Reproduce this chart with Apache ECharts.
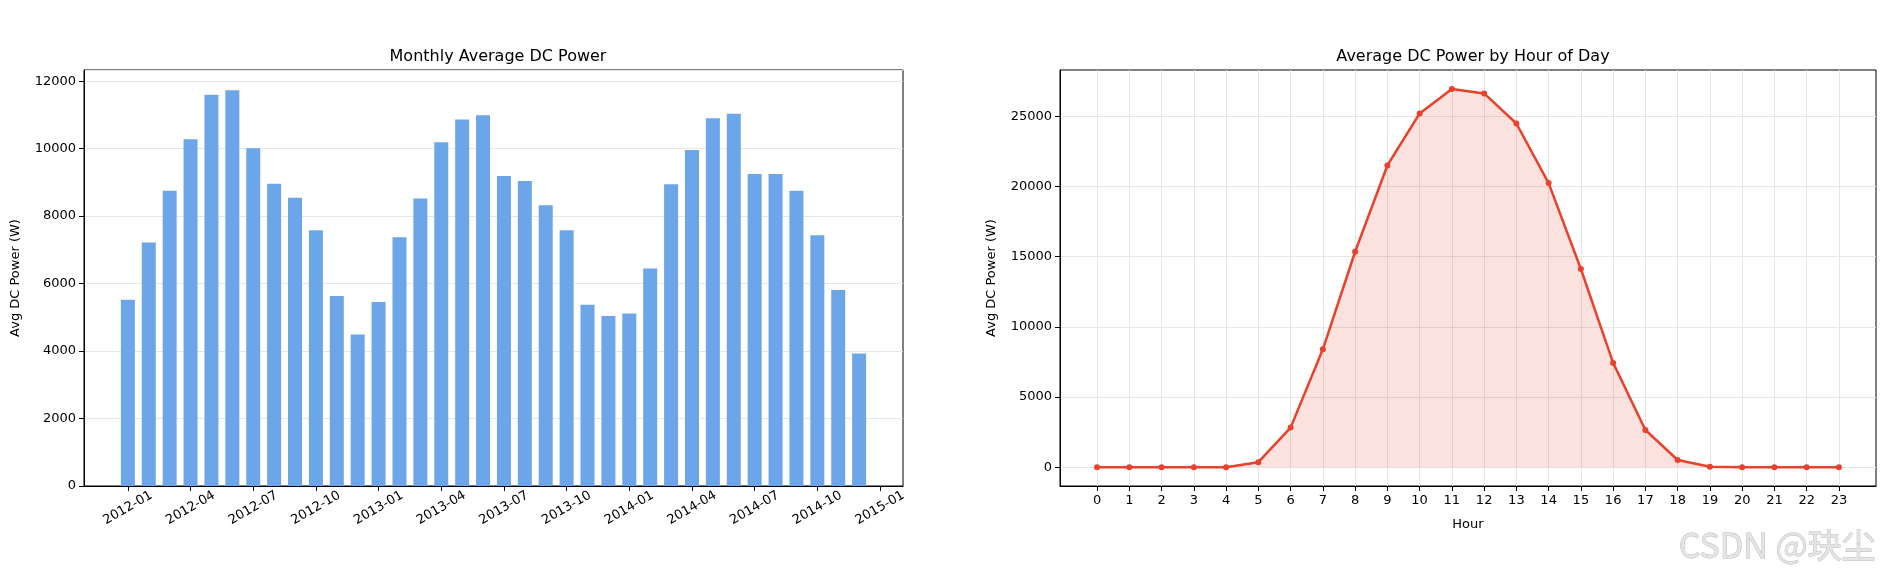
<!DOCTYPE html>
<html>
<head>
<meta charset="utf-8">
<script src="https://cdn.jsdelivr.net/npm/echarts@6/dist/echarts.min.js"></script>
<style>html,body{margin:0;padding:0;background:#fff}#main{width:1888px;height:574px}</style>
</head>
<body>
<div id="main"></div>
<script>
// 月份索引 0 = 2012-01
var monthLabels = ['2012-01','2012-04','2012-07','2012-10','2013-01','2013-04','2013-07','2013-10','2014-01','2014-04','2014-07','2014-10','2015-01'];
var monthTicks = [0,3,6,9,12,15,18,21,24,27,30,33,36];
var monthlyPower = [5520,7220,8750,10280,11600,11730,10010,8960,8540,7580,5630,4490,
    5450,7370,8520,10190,10860,10990,9190,9040,8320,7580,5370,5040,
    5110,6450,8940,9960,10900,11030,9250,9250,8750,7430,5810,3930];
var hours = [0,1,2,3,4,5,6,7,8,9,10,11,12,13,14,15,16,17,18,19,20,21,22,23];
var hourlyPower = [0,0,0,0,0,360,2820,8400,15350,21500,25200,26940,26630,24490,20240,14120,7430,2650,510,30,0,0,0,0];
var hourYTicks = [0,5000,10000,15000,20000,25000];

var font = 'DejaVu Sans';
var plain = function(v){return String(v);};
var axisCommon = {
    axisLine:{show:true,onZero:false,lineStyle:{color:'#000'}},
    axisTick:{show:true,length:5,lineStyle:{color:'#000'}},
    axisLabel:{color:'#000',fontFamily:font,fontSize:13}
};

var myChart = echarts.init(document.getElementById('main'));
var option = {
    animation:false,
    backgroundColor:'#fff',
    textStyle:{fontFamily:font},
    title:[
        {text:'Monthly Average DC Power',left:493,top:44,textAlign:'center',textStyle:{fontFamily:font,fontSize:16,fontWeight:'normal',color:'#000'}},
        {text:'Average DC Power by Hour of Day',left:1468,top:44,textAlign:'center',textStyle:{fontFamily:font,fontSize:16,fontWeight:'normal',color:'#000'}}
    ],
    grid:[
        {left:84,top:70,width:819,height:416,show:true,borderColor:'#000',borderWidth:1},
        {left:1060,top:70,width:816,height:416,show:true,borderColor:'#000',borderWidth:1}
    ],
    xAxis:[
        Object.assign({}, axisCommon, {
            type:'value',gridIndex:0,min:-2.1,max:37.1,
            splitLine:{show:false},
            axisTick:{show:true,length:5,customValues:monthTicks,lineStyle:{color:'#000'}},
            axisLabel:{color:'#000',fontFamily:font,fontSize:13,rotate:30,margin:22,align:'center',verticalAlign:'middle',customValues:monthTicks,
                formatter:function(v){return monthLabels[monthTicks.indexOf(Math.round(v))]||'';}}
        }),
        Object.assign({}, axisCommon, {
            type:'value',gridIndex:1,min:-1.15,max:24.15,
            name:'Hour',nameLocation:'middle',nameGap:32,nameTextStyle:{color:'#000',fontFamily:font,fontSize:13},
            splitLine:{show:true,lineStyle:{color:'#e6e6e6'}},
            axisTick:{show:true,length:5,customValues:hours,lineStyle:{color:'#000'}},
            axisLabel:{color:'#000',fontFamily:font,fontSize:13,customValues:hours}
        })
    ],
    yAxis:[
        Object.assign({}, axisCommon, {
            type:'value',gridIndex:0,min:0,max:12330,interval:2000,
            name:'Avg DC Power (W)',nameLocation:'middle',nameGap:62,nameTextStyle:{color:'#000',fontFamily:font,fontSize:13},
            splitLine:{show:true,lineStyle:{color:'#e6e6e6'}},
            axisLabel:{color:'#000',fontFamily:font,fontSize:13,showMaxLabel:false,formatter:plain}
        }),
        Object.assign({}, axisCommon, {
            type:'value',gridIndex:1,min:-1340,max:28300,
            name:'Avg DC Power (W)',nameLocation:'middle',nameGap:62,nameTextStyle:{color:'#000',fontFamily:font,fontSize:13},
            splitLine:{show:true,lineStyle:{color:'#e6e6e6'}},
            axisTick:{show:true,length:5,customValues:hourYTicks,lineStyle:{color:'#000'}},
            axisLabel:{color:'#000',fontFamily:font,fontSize:13,customValues:hourYTicks,formatter:plain}
        })
    ],
    series:[
        {
            type:'bar',xAxisIndex:0,yAxisIndex:0,barWidth:14,
            itemStyle:{color:'#6ca6e8'},
            data:monthlyPower.map(function(v,i){return [i,v];})
        },
        {
            type:'line',xAxisIndex:1,yAxisIndex:1,
            symbol:'circle',symbolSize:6,
            lineStyle:{color:'#e8412c',width:2.5},
            itemStyle:{color:'#e8412c'},
            areaStyle:{color:'rgba(232,65,44,0.22)',origin:0},
            data:hours.map(function(h,i){return [h,hourlyPower[i]];})
        }
    ],
    graphic:[
        {type:'text',right:12,bottom:12,style:{text:'CSDN @玦尘',fontFamily:'Noto Sans CJK SC',fontSize:34,fill:'#e4e4e4',stroke:'#b5b5b5',lineWidth:0.8}}
    ]
};
myChart.setOption(option);
</script>
</body>
</html>
